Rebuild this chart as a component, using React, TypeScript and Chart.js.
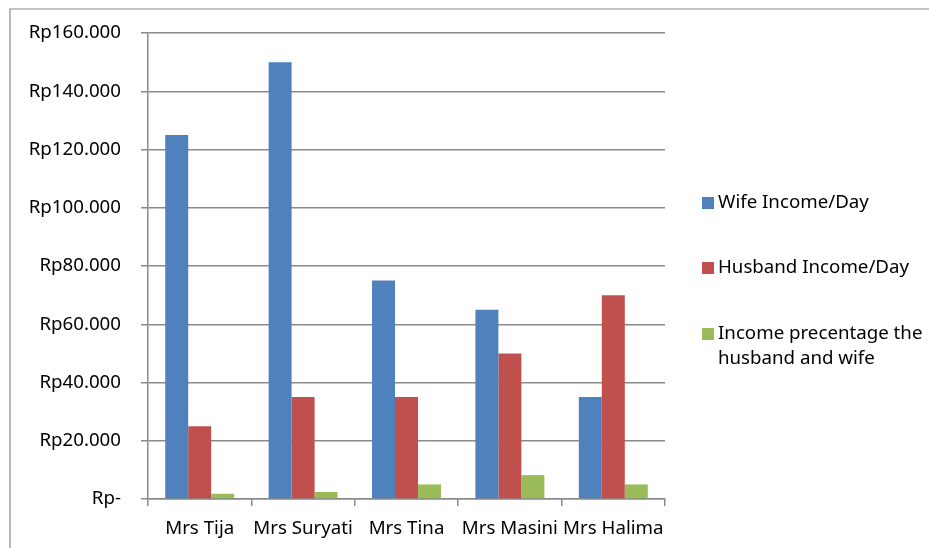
import React, { useEffect, useRef } from "react";
import { Chart, registerables } from "chart.js";

Chart.register(...registerables);

const categories = ["Mrs Tija", "Mrs Suryati", "Mrs Tina", "Mrs Masini", "Mrs Halima"];
const seriesNames = ["Wife Income/Day", "Husband Income/Day", "Income precentage the husband and wife"];
const wifeIncome = [125000, 150000, 75000, 65000, 35000];
const husbandIncome = [25000, 35000, 35000, 50000, 70000];
const incomePercentage = [1800, 2400, 5000, 8200, 5000];
const seriesColors = ["#4F81BD", "#C0504D", "#9BBB59"];
const yMax = 160000;
const yStep = 20000;

const FONT = "'Noto Sans', sans-serif";
const FONT_SIZE = 18.7;

function formatRp(v: number): string {
  if (v === 0) return "Rp-";
  const s = Math.round(v).toString().replace(/\B(?=(\d{3})+(?!\d))/g, ".");
  return "Rp" + s;
}

const frameAndLegend = {
  id: "frameAndLegend",
  afterDraw(chart: any) {
    const ctx = chart.ctx as CanvasRenderingContext2D;
    const W = chart.width;
    const H = chart.height;
    ctx.save();
    ctx.strokeStyle = "#8a8a8a";
    ctx.lineWidth = 1.2;
    ctx.beginPath();
    ctx.moveTo(10, H + 2);
    ctx.lineTo(10, 9);
    ctx.lineTo(W + 2, 9);
    ctx.stroke();

    const area = chart.chartArea;
    const boxX = area.right + 37;
    const textX = boxX + 16;
    const maxW = 216;
    ctx.font = `${FONT_SIZE}px ${FONT}`;
    ctx.textBaseline = "middle";
    ctx.textAlign = "left";
    const itemCenters = [203, 268, 334];
    const lineH = 25;
    chart.data.datasets.forEach((ds: any, i: number) => {
      const words = String(ds.label).split(" ");
      const lines: string[] = [];
      let cur = "";
      for (const w of words) {
        const t = cur ? cur + " " + w : w;
        if (ctx.measureText(t).width > maxW && cur) {
          lines.push(cur);
          cur = w;
        } else cur = t;
      }
      if (cur) lines.push(cur);
      const y0 = itemCenters[i];
      ctx.fillStyle = ds.backgroundColor;
      ctx.fillRect(boxX, y0 - 6, 12, 12);
      ctx.fillStyle = "#000";
      lines.forEach((ln, k) => ctx.fillText(ln, textX, y0 + k * lineH));
    });
    ctx.restore();
  },
};

export default function App() {
  const ref = useRef<HTMLCanvasElement | null>(null);
  useEffect(() => {
    if (!ref.current) return;
    const chart = new Chart(ref.current, {
      type: "bar",
      data: {
        labels: categories,
        datasets: [
          { label: seriesNames[0], data: wifeIncome, backgroundColor: seriesColors[0] },
          { label: seriesNames[1], data: husbandIncome, backgroundColor: seriesColors[1] },
          { label: seriesNames[2], data: incomePercentage, backgroundColor: seriesColors[2] },
        ],
      },
      options: {
        animation: false,
        responsive: false,
        maintainAspectRatio: false,
        layout: { padding: { top: 33, right: 264, left: 0, bottom: 0 } },
        datasets: { bar: { categoryPercentage: 0.667, barPercentage: 1 } },
        plugins: {
          legend: { display: false },
          tooltip: { enabled: false },
        },
        scales: {
          x: {
            afterFit: (s: any) => { s.height = 49; },
            grid: {
              display: true,
              drawOnChartArea: false,
              drawTicks: true,
              tickLength: 7,
              offset: true,
              color: "#8a8a8a",
              lineWidth: 1.5,
            },
            border: { display: true, color: "#8a8a8a", width: 1.5 },
            ticks: {
              color: "#000",
              font: { family: FONT, size: FONT_SIZE },
              padding: 11,
              maxRotation: 0,
              autoSkip: false,
            },
          },
          y: {
            min: 0,
            max: yMax,
            afterFit: (s: any) => { s.width = 148; },
            ticks: {
              stepSize: yStep,
              color: "#000",
              font: { family: FONT, size: FONT_SIZE },
              padding: 20,
              callback: (v: any) => formatRp(Number(v)),
            },
            grid: {
              color: "#8a8a8a",
              lineWidth: 1.5,
              drawTicks: true,
              tickLength: 7,
            },
            border: { display: true, color: "#8a8a8a", width: 1.5 },
          },
        },
      },
      plugins: [frameAndLegend],
    });
    return () => chart.destroy();
  }, []);
  return (
    <div style={{ position: "fixed", left: 0, top: 0, width: 929, height: 548, background: "#fff" }}>
      <canvas ref={ref} width={929} height={548} style={{ width: 929, height: 548, display: "block" }} />
    </div>
  );
}
